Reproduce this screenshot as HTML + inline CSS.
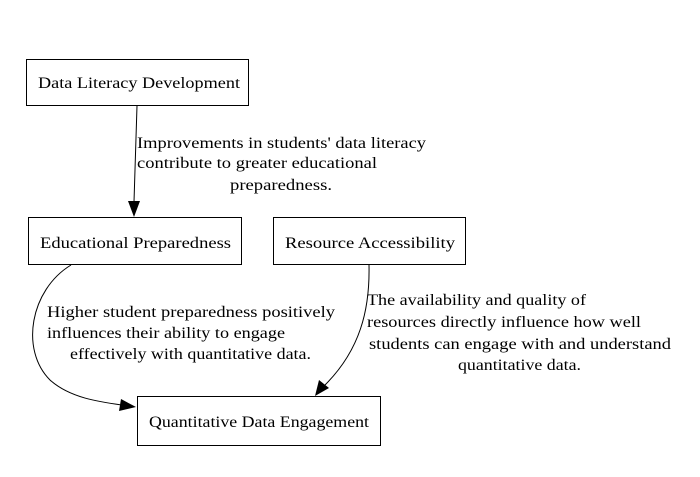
<!DOCTYPE html>
<html><head><style>body{margin:0;background:#fff}svg text{font-family:"Liberation Serif",serif;font-size:16px;fill:#000}</style></head>
<body>
<svg width="700" height="472" viewBox="0 0 700 472" xmlns="http://www.w3.org/2000/svg">
<g fill="none" stroke="#000" stroke-width="1">
<rect x="26.5" y="59.5" width="222" height="46"/>
<rect x="28.5" y="217.5" width="213" height="47"/>
<rect x="273.5" y="217.5" width="192" height="47"/>
<rect x="137.5" y="396.5" width="243" height="49"/>
<path d="M137,106 L134,202"/>
<path d="M71,265 C30,290 20,350 50,380 C70,398 100,402 122,405"/>
<path d="M369,265 C370,310 360,350 325,385"/>
</g>
<g fill="#000">
<polygon points="128,201 140,201 134,217"/>
<polygon points="121,399 119,411 136,407"/>
<polygon points="319,380 329,388 315,396"/>
</g>
<g lengthAdjust="spacingAndGlyphs">
<text x="38" y="88" textLength="202" lengthAdjust="spacingAndGlyphs">Data Literacy Development</text>
<text x="40" y="248" textLength="191" lengthAdjust="spacingAndGlyphs">Educational Preparedness</text>
<text x="285" y="248" textLength="170" lengthAdjust="spacingAndGlyphs">Resource Accessibility</text>
<text x="149" y="427" textLength="220" lengthAdjust="spacingAndGlyphs">Quantitative Data Engagement</text>
<text x="137" y="148" textLength="289" lengthAdjust="spacingAndGlyphs">Improvements in students' data literacy</text>
<text x="137" y="168" textLength="240" lengthAdjust="spacingAndGlyphs">contribute to greater educational</text>
<text x="230" y="190" textLength="102" lengthAdjust="spacingAndGlyphs">preparedness.</text>
<text x="47" y="317" textLength="288" lengthAdjust="spacingAndGlyphs">Higher student preparedness positively</text>
<text x="47" y="338" textLength="238" lengthAdjust="spacingAndGlyphs">influences their ability to engage</text>
<text x="70" y="359" textLength="241" lengthAdjust="spacingAndGlyphs">effectively with quantitative data.</text>
<text x="367" y="305" textLength="219" lengthAdjust="spacingAndGlyphs">The availability and quality of</text>
<text x="367" y="327" textLength="274" lengthAdjust="spacingAndGlyphs">resources directly influence how well</text>
<text x="369" y="349" textLength="302" lengthAdjust="spacingAndGlyphs">students can engage with and understand</text>
<text x="458" y="370" textLength="123" lengthAdjust="spacingAndGlyphs">quantitative data.</text>
</g>
</svg>
</body></html>
